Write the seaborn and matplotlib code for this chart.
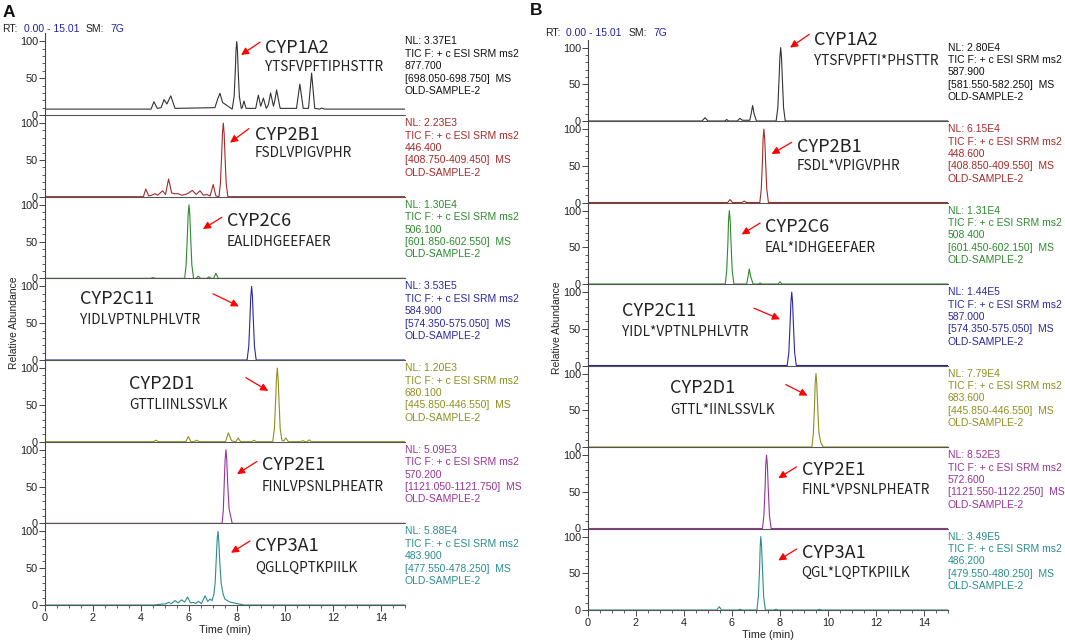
import matplotlib
matplotlib.use("Agg")
import matplotlib.pyplot as plt
import seaborn as sns

# ---------------- data ----------------
# times in min, relative abundance in %

a_1a2_t = [0, 4.42, 4.54, 4.68, 4.84, 4.96, 5.08, 5.24, 5.42, 7.08, 7.20, 7.29, 7.40, 7.80, 7.88, 7.93, 7.96,
           7.99, 8.02, 8.05, 8.10, 8.18, 8.22, 8.29, 8.38, 8.78, 8.89, 8.99, 9.10, 9.22, 9.31, 9.40, 9.52, 9.58,
           9.65, 9.80, 10.48, 10.62, 10.76, 10.98, 11.11, 11.24, 11.45, 11.53, 11.65, 15.01]
a_1a2_y = [8, 8, 18, 9, 10, 21, 15, 26, 9, 10, 22, 29.5, 17, 8, 25, 60, 88, 100, 88, 60, 25, 9, 10, 19, 9, 9,
           27, 12, 23, 9, 14, 30, 12, 20, 34, 9, 9, 42, 9, 9, 57, 9, 8, 9.5, 8, 8]

a_2b1_t = [0, 4.10, 4.20, 4.32, 4.45, 4.58, 4.70, 4.80, 4.90, 5.02, 5.15, 5.28, 5.40, 5.55, 5.70, 5.85, 5.98,
           6.14, 6.30, 6.46, 6.60, 6.74, 6.88, 7.01, 7.12, 7.25, 7.31, 7.36, 7.395, 7.43, 7.465, 7.50, 7.55,
           7.62, 15.01]
a_2b1_y = [0, 0, 10.5, 1, 2, 4, 2, 5, 8, 3, 24, 5, 4, 4, 2, 3, 5, 8.5, 3, 8, 2, 3, 1, 16.5, 1, 0, 18, 56, 86,
           100, 86, 56, 18, 0, 0]

a_2c6_t = [0, 4.40, 4.50, 4.60, 5.82, 5.88, 5.93, 5.965, 6.00, 6.035, 6.07, 6.12, 6.19, 6.30, 6.39, 6.48,
           6.75, 6.83, 6.92, 7.03, 7.12, 7.22, 15.01]
a_2c6_y = [0, 0, 1, 0, 0, 18, 56, 86, 100, 86, 56, 18, 0, 0, 3, 0, 0, 2, 0, 0, 7, 0, 0]

a_2c11_t = [0, 8.42, 8.49, 8.54, 8.575, 8.61, 8.645, 8.68, 8.73, 8.80, 15.01]
a_2c11_y = [0, 0, 18, 56, 86, 100, 86, 56, 18, 0, 0]

a_2d1_t = [0, 4.52, 4.62, 4.72, 5.87, 5.97, 6.08, 6.22, 6.32, 6.42, 7.52, 7.64, 7.78, 7.95, 8.05, 8.15, 8.62,
           8.71, 8.80, 9.49, 9.56, 9.61, 9.645, 9.68, 9.715, 9.75, 9.80, 9.87, 9.95, 10.04, 10.14, 10.66,
           10.74, 10.84, 10.93, 11.01, 11.10, 15.01]
a_2d1_y = [0, 0, 2, 0, 0, 7, 0, 0, 2, 0, 0, 12, 1, 0, 5, 0, 0, 2, 0, 0, 18, 56, 86, 100, 86, 56, 18, 2, 1, 5,
           0, 0, 1.5, 0, 0, 2.5, 0, 0]

a_2e1_t = [0, 7.38, 7.43, 7.47, 7.505, 7.54, 7.575, 7.61, 7.67, 7.80, 15.01]
a_2e1_y = [0, 0, 18, 56, 86, 100, 86, 56, 20, 0, 0]

a_3a1_t = [0, 4.55, 4.80, 5.02, 5.14, 5.26, 5.42, 5.55, 5.69, 5.82, 5.94, 6.06, 6.18, 6.28, 6.39, 6.52, 6.67,
           6.78, 6.88, 6.96, 7.04, 7.09, 7.14, 7.175, 7.21, 7.245, 7.28, 7.34, 7.42, 7.50, 7.70, 8.00, 8.30,
           15.01]
a_3a1_y = [0, 0, 1, 1.5, 3.6, 2, 6, 3, 7, 4, 11, 3, 3.6, 2, 5, 2, 12.5, 5, 8, 6, 15, 30, 65, 90, 100, 86, 60,
           30, 15, 8, 4, 2, 0, 0]

b_1a2_t = [0, 4.75, 4.88, 5.00, 5.70, 5.78, 5.86, 6.22, 6.33, 6.44, 6.74, 6.80, 6.86, 6.92, 7.02, 7.84, 7.91,
           7.96, 7.995, 8.03, 8.065, 8.10, 8.15, 8.22, 15.01]
b_1a2_y = [0, 0, 4.5, 0, 0, 2, 0, 0, 3.6, 1, 1, 10, 21, 10, 0, 0, 18, 56, 86, 100, 86, 56, 18, 0, 0]

b_2b1_t = [0, 5.82, 5.92, 6.02, 6.42, 6.51, 6.60, 7.16, 7.22, 7.27, 7.295, 7.33, 7.365, 7.40, 7.45, 7.52,
           15.01]
b_2b1_y = [0, 0, 4, 0, 0, 2, 0, 0, 18, 56, 86, 100, 86, 56, 18, 0, 0]

b_2c6_t = [0, 5.72, 5.78, 5.83, 5.855, 5.89, 5.925, 5.96, 6.01, 6.08, 6.61, 6.67, 6.72, 6.78, 6.88, 7.10,
           7.17, 7.24, 7.92, 8.00, 8.08, 15.01]
b_2c6_y = [0, 0, 18, 56, 86, 100, 86, 56, 18, 0, 0, 10, 20.5, 10, 0, 0, 1.4, 0, 0, 3, 0, 0]

b_2c11_t = [0, 8.30, 8.37, 8.42, 8.455, 8.49, 8.525, 8.56, 8.61, 8.68, 15.01]
b_2c11_y = [0, 0, 18, 56, 86, 100, 86, 56, 18, 0, 0]

b_2d1_t = [0, 9.33, 9.39, 9.44, 9.465, 9.50, 9.535, 9.57, 9.62, 9.70, 9.80, 15.01]
b_2d1_y = [0, 0, 18, 56, 86, 100, 86, 56, 20, 6, 0, 0]

b_2e1_t = [0, 7.27, 7.33, 7.38, 7.405, 7.44, 7.475, 7.51, 7.56, 7.63, 15.01]
b_2e1_y = [0, 0, 18, 56, 86, 100, 86, 56, 18, 0, 0]

b_3a1_t = [0, 5.37, 5.47, 5.57, 6.25, 6.33, 6.41, 7.04, 7.10, 7.15, 7.175, 7.20, 7.235, 7.27, 7.32, 7.39,
           7.75, 7.83, 7.91, 9.56, 9.64, 9.72, 15.01]
b_3a1_y = [0, 0, 4.5, 0, 0, 1, 0, 0, 18, 56, 86, 100, 86, 56, 18, 0, 0, 1, 0, 0, 1, 0, 0]

proteins = ["CYP1A2", "CYP2B1", "CYP2C6", "CYP2C11", "CYP2D1", "CYP2E1", "CYP3A1"]
peptides_a = ["YTSFVPFTIPHSTTR", "FSDLVPIGVPHR", "EALIDHGEEFAER", "YIDLVPTNLPHLVTR",
              "GTTLIINLSSVLK", "FINLVPSNLPHEATR", "QGLLQPTKPIILK"]
peptides_b = ["YTSFVPFTI*PHSTTR", "FSDL*VPIGVPHR", "EAL*IDHGEEFAER", "YIDL*VPTNLPHLVTR",
              "GTTL*IINLSSVLK", "FINL*VPSNLPHEATR", "QGL*LQPTKPIILK"]

nl_a = ["3.37E1", "2.23E3", "1.30E4", "3.53E5", "1.20E3", "5.09E3", "5.88E4"]
mz_a = ["877.700", "446.400", "506.100", "584.900", "680.100", "570.200", "483.900"]
win_a = ["698.050-698.750", "408.750-409.450", "601.850-602.550", "574.350-575.050",
         "445.850-446.550", "1121.050-1121.750", "477.550-478.250"]
nl_b = ["2.80E4", "6.15E4", "1.31E4", "1.44E5", "7.79E4", "8.52E3", "3.49E5"]
mz_b = ["587.900", "448.600", "508.400", "587.000", "683.600", "572.600", "486.200"]
win_b = ["581.550-582.250", "408.850-409.550", "601.450-602.150", "574.350-575.050",
         "445.850-446.550", "1121.550-1122.250", "479.550-480.250"]

traces_a = [(a_1a2_t, a_1a2_y), (a_2b1_t, a_2b1_y), (a_2c6_t, a_2c6_y), (a_2c11_t, a_2c11_y),
            (a_2d1_t, a_2d1_y), (a_2e1_t, a_2e1_y), (a_3a1_t, a_3a1_y)]
traces_b = [(b_1a2_t, b_1a2_y), (b_2b1_t, b_2b1_y), (b_2c6_t, b_2c6_y), (b_2c11_t, b_2c11_y),
            (b_2d1_t, b_2d1_y), (b_2e1_t, b_2e1_y), (b_3a1_t, b_3a1_y)]

# ---------------- layout / style ----------------
trace_colors = ["#333333", "#a52a2a", "#2d8a2d", "#2a2a9c", "#8f8f1f", "#993399", "#2b8c8c"]
text_colors = ["#111111", "#a52a2a", "#2d8a2d", "#2a2a9c", "#8f8f1f", "#993399", "#2b8c8c"]
BLUE = "#2222aa"

# name (x, y), peptide y, arrow tail, arrow head  -- in data coords of each panel
labels_a = [((9.17, 91), 65, (8.96, 99), (8.17, 81.6)),
            ((8.75, 84), 60, (8.50, 92.5), (7.71, 73.5)),
            ((7.58, 78), 50, (7.37, 83), (6.58, 67)),
            ((1.46, 83), 54, (7.00, 90), (8.08, 73)),
            ((3.50, 79), 50, (8.37, 87), (9.30, 69)),
            ((9.04, 79), 50, (8.83, 84), (8.00, 67)),
            ((8.75, 80), 51, (8.54, 87), (7.75, 71))]
labels_b = [((9.42, 110), 82, (9.22, 118), (8.42, 100)),
            ((8.70, 75), 50, (8.49, 82), (7.65, 66)),
            ((7.375, 77), 49.5, (7.17, 83), (6.40, 67.5)),
            ((1.40, 74), 45, (6.92, 78), (8.00, 63)),
            ((3.42, 80), 51, (8.24, 85), (9.15, 70)),
            ((8.90, 80), 53, (8.69, 84), (7.93, 68.5)),
            ((8.90, 77), 50, (8.69, 83), (7.93, 67.5))]

W, H = 1065, 644
sns.set_theme(style="ticks")
plt.rcParams["font.family"] = ["Liberation Sans", "DejaVu Sans"]
NAME_FONT = ["Noto Sans CJK SC", "DejaVu Sans"]

fig = plt.figure(figsize=(W / 100, H / 100), dpi=100)
fig.patch.set_facecolor("white")


def fx(x, y):
    return x / W, 1 - y / H


def draw_panel(left_px, zero_top_px, step_px, traces, labels, peptides, nls, mzs, wins, head_x, head_y, ylab_xy):
    axes = []
    for i in range(7):
        zero = zero_top_px + i * step_px
        x0, y0 = fx(left_px, zero)
        ax = fig.add_axes([x0, y0, 360.2 / W, step_px / H])
        ax.set_facecolor("none")
        t, y = traces[i]
        sns.lineplot(x=t, y=y, ax=ax, color=trace_colors[i], lw=0.8, estimator=None, sort=False)
        ax.set_xlim(0, 15.01)
        ax.set_ylim(0, 111)
        for s in ["top", "right"]:
            ax.spines[s].set_visible(False)
        ax.spines["left"].set_color("#444444")
        ax.spines["bottom"].set_color("#555555")
        ax.spines["left"].set_linewidth(0.8)
        ax.spines["bottom"].set_linewidth(0.8)
        ax.set_yticks([0, 50, 100])
        ax.set_yticks(range(10, 100, 10), minor=True)
        ax.tick_params(axis="y", which="major", length=4.5, width=0.7, labelsize=7.8, pad=0.5,
                       color="#444444", labelcolor="#222222")
        ax.tick_params(axis="y", which="minor", length=2.5, width=0.6, color="#444444")
        ax.set_xlabel("")
        ax.set_ylabel("")
        if i < 6:
            ax.tick_params(axis="x", which="both", bottom=False, labelbottom=False)
        else:
            ax.set_xticks(range(0, 15, 2))
            ax.set_xticks([v * 0.5 for v in range(0, 31)], minor=True)
            ax.tick_params(axis="x", which="major", length=4.5, width=0.7, labelsize=7.8, pad=1.5,
                           color="#444444", labelcolor="#222222")
            ax.tick_params(axis="x", which="minor", length=2.5, width=0.6, color="#444444")
            ax.set_xlabel("Time (min)", fontsize=7.8, labelpad=1, color="#222222")

        (nx, ny), py, tail, head = labels[i]
        ax.text(nx, ny, proteins[i], fontsize=13, family=NAME_FONT, color="#222222",
                ha="left", va="center", clip_on=False)
        ax.text(nx, py, peptides[i], fontsize=9.8, family=NAME_FONT, color="#222222",
                ha="left", va="center", clip_on=False)
        ax.annotate("", xy=head, xytext=tail,
                    arrowprops=dict(arrowstyle="-|>", color="red", lw=0.9, mutation_scale=11,
                                    shrinkA=0, shrinkB=0), annotation_clip=False)

        info = ["NL: " + nls[i], "TIC F: + c ESI SRM ms2", mzs[i], "[" + wins[i] + "]  MS", "OLD-SAMPLE-2"]
        for k, line in enumerate(info):
            ax.annotate(line, xy=(1, 100), xycoords=("axes fraction", "data"),
                        xytext=(-0.5, -k * 8.95), textcoords="offset points",
                        fontsize=7.5, color=text_colors[i], ha="left", va="center",
                        annotation_clip=False)
        axes.append(ax)

    # header "RT: 0.00 - 15.01   SM: 7G"
    hx, hy = head_x, head_y
    fig.text(*fx(hx, hy), "RT:", fontsize=7.5, color="#222222", va="center")
    fig.text(*fx(hx + 21.5, hy), "0.00 - 15.01", fontsize=7.5, color=BLUE, va="center")
    fig.text(*fx(hx + 84, hy), "SM:", fontsize=7.5, color="#222222", va="center")
    fig.text(*fx(hx + 108, hy), "7G", fontsize=7.5, color=BLUE, va="center")
    fig.text(*fx(*ylab_xy), "Relative Abundance", fontsize=7.5, rotation=90, color="#222222",
             ha="center", va="center")
    return axes


draw_panel(45, 115, 81.67, traces_a, labels_a, peptides_a, nl_a, mz_a, win_a, 2, 29, (14, 323))
draw_panel(588, 121, 81.5, traces_b, labels_b, peptides_b, nl_b, mz_b, win_b, 545, 33, (557, 328))

fig.text(*fx(3, 12.5), "A", fontsize=12.5, fontweight="bold", color="#111111", va="center")
fig.text(*fx(530, 10.5), "B", fontsize=12.5, fontweight="bold", color="#111111", va="center")

fig.savefig("out.png", dpi=100, facecolor="white")
